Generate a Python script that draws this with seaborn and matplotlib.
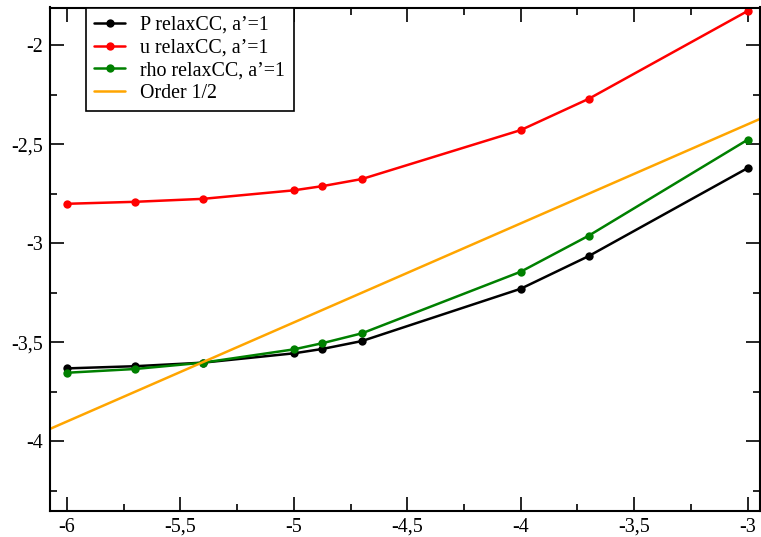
import matplotlib
matplotlib.use("Agg")
import matplotlib.pyplot as plt
from matplotlib.ticker import FuncFormatter, MultipleLocator
import seaborn as sns
import numpy as np

# log10 des pas
x_vals = [-6.0, -5.7, -5.4, -5.0, -4.875, -4.7, -4.0, -3.7, -3.0]

p_err = [-3.632, -3.621, -3.603, -3.556, -3.534, -3.494, -3.230, -3.065, -2.621]
u_err = [-2.801, -2.791, -2.776, -2.733, -2.712, -2.676, -2.429, -2.271, -1.828]
rho_err = [-3.654, -3.635, -3.603, -3.536, -3.505, -3.455, -3.144, -2.962, -2.478]

# droite de pente 1/2
order_x = [-6.3, -2.7]
order_y = [-4.05, -2.25]

sns.set_style("ticks")
plt.rcParams['font.family'] = ['Liberation Serif', 'DejaVu Serif']
plt.rcParams['font.size'] = 14.4
for k in ['text.color', 'axes.labelcolor', 'xtick.color', 'ytick.color']:
    plt.rcParams[k] = 'black'

fig = plt.figure(figsize=(7.61, 5.37), dpi=100)
ax = fig.add_axes([50 / 761, 26 / 537, 710 / 761, 503.5 / 537])

style = dict(marker='o', markersize=6, markeredgewidth=0, linewidth=1.8)
sns.lineplot(x=x_vals, y=p_err, ax=ax, color='black', label="P relaxCC, a\u2019=1", **style)
sns.lineplot(x=x_vals, y=u_err, ax=ax, color='red', label="u relaxCC, a\u2019=1", **style)
sns.lineplot(x=x_vals, y=rho_err, ax=ax, color='green', label="rho relaxCC, a\u2019=1", **style)
sns.lineplot(x=order_x, y=order_y, ax=ax, color='orange', linewidth=1.8, label="Order 1/2")

ax.set_xlim(-6.075, -2.945)
ax.set_ylim(-4.352, -1.81)

comma = FuncFormatter(lambda v, pos: ('%g' % v).replace('.', ','))
ax.xaxis.set_major_locator(MultipleLocator(0.5))
ax.xaxis.set_minor_locator(MultipleLocator(0.25))
ax.yaxis.set_major_locator(MultipleLocator(0.5))
ax.yaxis.set_minor_locator(MultipleLocator(0.25))
ax.xaxis.set_major_formatter(comma)
ax.yaxis.set_major_formatter(comma)

ax.tick_params(which='both', direction='in', top=True, right=True,
               labelsize=14.4, width=1.2, color='black', labelcolor='black')
ax.tick_params(which='major', length=10, pad=5)
ax.tick_params(which='minor', length=5)
for s in ax.spines.values():
    s.set_linewidth(1.5)
    s.set_color('black')

leg = ax.legend(loc='upper left', bbox_to_anchor=(0.0507, 1.0), borderaxespad=0,
                frameon=True, fancybox=False, edgecolor='black', framealpha=1,
                handlelength=1.55, handletextpad=0.75, labelspacing=0.18,
                borderpad=0.42, fontsize=14.4)
leg.get_frame().set_linewidth(1.2)

fig.savefig("out.png", dpi=100)
